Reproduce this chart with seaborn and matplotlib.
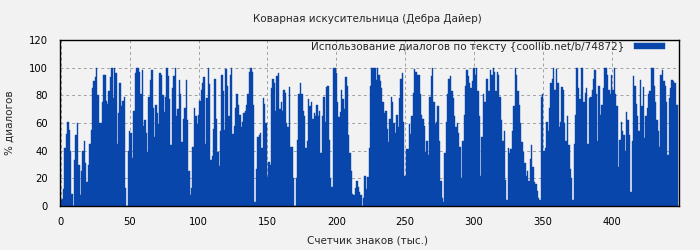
import matplotlib
matplotlib.use("Agg")
import matplotlib.pyplot as plt
import seaborn as sns

TITLE = "Коварная искусительница (Дебра Дайер)"
XLABEL = "Счетчик знаков (тыс.)"
YLABEL = "% диалогов"
LEGEND = "Использование диалогов по тексту {coollib.net/b/74872}"

# dialogue share (%) per thousand characters
pct_000_075 = [4, 5, 12, 42, 52, 61, 55, 40, 9, 0, 33, 51, 60, 30, 8, 25, 40, 47, 31, 17,
               30, 45, 55, 85, 90, 93, 100, 80, 60, 60, 75, 95, 95, 76, 74, 83, 93, 100, 78, 100,
               96, 45, 67, 89, 72, 76, 79, 13, 0, 40, 54, 53, 35, 69, 96, 100, 100, 97, 81, 98,
               58, 62, 53, 39, 79, 91, 98, 71, 50, 73, 67, 59, 96, 95, 80, 68]
pct_076_151 = [79, 100, 94, 77, 44, 85, 94, 100, 65, 70, 91, 81, 46, 63, 71, 91, 62, 25, 8, 13,
               43, 71, 65, 59, 66, 76, 84, 89, 93, 45, 78, 100, 88, 33, 36, 56, 92, 63, 39, 29,
               54, 95, 83, 55, 99, 87, 65, 95, 100, 52, 58, 71, 81, 73, 66, 57, 61, 67, 69, 73,
               81, 97, 100, 97, 73, 3, 27, 50, 51, 53, 42, 78, 74, 60, 21, 32]
pct_152_227 = [30, 85, 92, 89, 69, 94, 96, 70, 75, 69, 84, 82, 60, 57, 86, 43, 43, 20, 0, 20,
               48, 81, 89, 81, 69, 65, 42, 47, 77, 72, 75, 63, 67, 65, 73, 65, 69, 38, 65, 79,
               61, 86, 87, 48, 20, 14, 100, 100, 96, 75, 64, 68, 84, 77, 70, 93, 87, 51, 38, 25,
               9, 8, 13, 18, 14, 10, 8, 0, 6, 22, 12, 21, 42, 87, 100, 100]
pct_228_304 = [100, 91, 100, 95, 90, 85, 75, 67, 69, 56, 46, 63, 79, 75, 60, 53, 66, 57, 78, 92,
               96, 61, 22, 41, 41, 59, 52, 65, 82, 99, 97, 95, 95, 81, 66, 63, 58, 39, 47, 37,
               79, 94, 100, 75, 59, 61, 72, 47, 18, 6, 3, 38, 61, 81, 92, 94, 83, 78, 65, 57,
               60, 53, 43, 20, 47, 66, 87, 98, 94, 89, 85, 90, 100, 95, 100, 83, 65]
pct_305_380 = [22, 50, 81, 75, 92, 92, 83, 98, 95, 100, 97, 83, 97, 95, 79, 62, 47, 54, 19, 4,
               42, 38, 41, 54, 72, 100, 95, 83, 73, 60, 46, 39, 31, 22, 25, 18, 34, 44, 28, 17,
               16, 11, 6, 4, 79, 81, 40, 42, 61, 54, 71, 89, 92, 100, 84, 99, 89, 57, 61, 86,
               84, 60, 47, 65, 44, 27, 20, 4, 45, 66, 100, 85, 77, 100, 100, 75]
pct_381_448 = [82, 85, 45, 78, 79, 84, 92, 98, 81, 47, 87, 66, 73, 85, 100, 100, 95, 84, 81, 95,
               84, 100, 81, 72, 28, 48, 61, 54, 51, 40, 68, 62, 51, 10, 47, 94, 87, 74, 65, 54,
               91, 72, 86, 49, 65, 71, 81, 83, 100, 100, 87, 75, 62, 54, 43, 95, 98, 90, 87, 75,
               37, 78, 85, 91, 90, 89, 73, 73]

pct = pct_000_075 + pct_076_151 + pct_152_227 + pct_228_304 + pct_305_380 + pct_381_448
kchars = list(range(len(pct)))

BLUE = "#0846ab"
BG = "#f2f2f2"

sns.set_style("white", {"axes.facecolor": BG, "figure.facecolor": BG})
plt.rcParams["font.family"] = ["DejaVu Sans"]

fig = plt.figure(figsize=(7, 2.5), dpi=100)
fig.patch.set_facecolor(BG)
ax = fig.add_axes([60.3 / 700, 44 / 250, 618.3 / 700, 166 / 250])
ax.set_facecolor(BG)

sns.barplot(x=kchars, y=pct, native_scale=True, width=1, color=BLUE, saturation=1,
            linewidth=0.3, edgecolor=BLUE, label=LEGEND, ax=ax)

ax.set_xlim(-0.5, len(pct) - 0.3)
ax.set_ylim(0, 120)
ax.set_xticks(range(0, 401, 50))
ax.set_yticks(range(0, 121, 20))
ax.tick_params(direction="out", length=3, width=0.8, labelsize=7.2, colors="black", pad=5)
ax.tick_params(axis="y", pad=6)
ax.set_axisbelow(True)
ax.grid(True, linestyle=(0, (3, 3)), color="#a0a0a0", linewidth=0.7)
for s in ax.spines.values():
    s.set_visible(True)
    s.set_color("black")
    s.set_linewidth(1)
ax.set_xlabel("")
ax.set_ylabel("")

leg = ax.legend(loc="upper right", bbox_to_anchor=(0.978, 0.99), frameon=False,
                markerfirst=False, fontsize=7.5, handlelength=3.0, handleheight=0.55,
                handletextpad=0.9, borderaxespad=0, borderpad=0)

fig.text(0.525, 0.924, TITLE, ha="center", va="center", fontsize=7.5)
fig.text(0.525, 0.037, XLABEL, ha="center", va="center", fontsize=7.5)
fig.text(0.014, 0.51, YLABEL, ha="center", va="center", rotation=90, fontsize=7.5)

fig.savefig("out.png", dpi=100, facecolor=BG)
